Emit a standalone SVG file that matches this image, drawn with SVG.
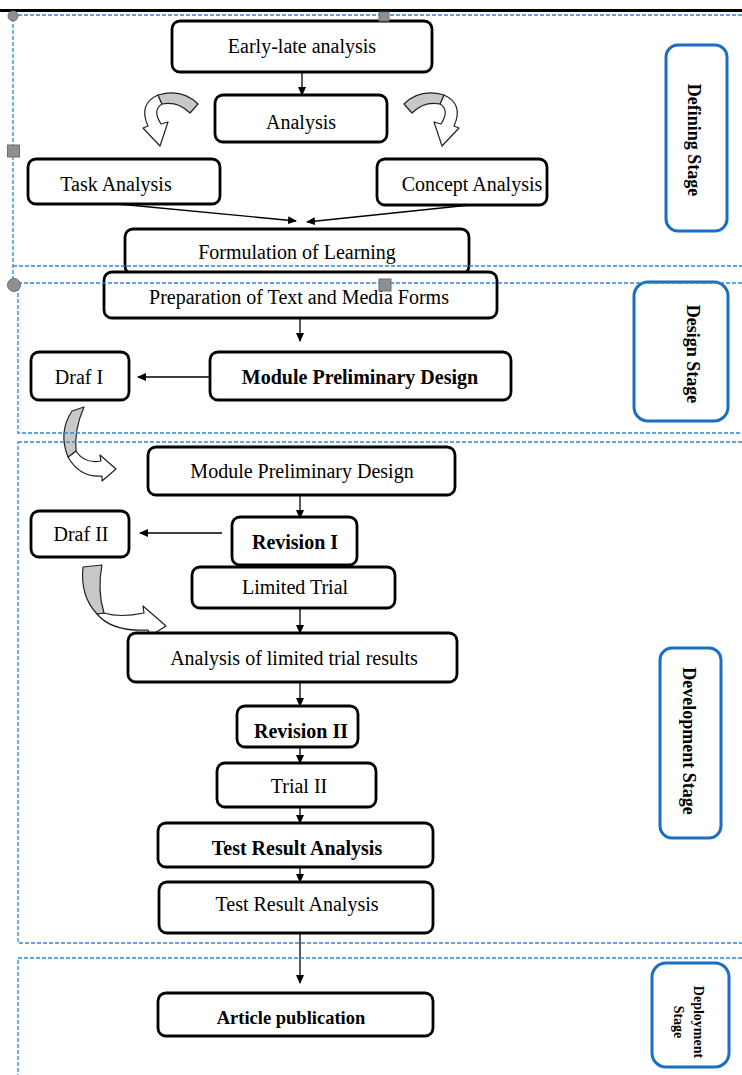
<svg xmlns="http://www.w3.org/2000/svg" width="742" height="1075" viewBox="0 0 742 1075">
<defs>
<style>
.box{fill:#fff;stroke:#000;stroke-width:2.8}
.stage{fill:#fff;stroke:#1b6fc2;stroke-width:3}
.t{font-family:"Liberation Serif","Times New Roman",serif;font-size:20px;fill:#000;text-anchor:middle;dominant-baseline:central}
.b{font-weight:bold}
.st{font-family:"Liberation Serif","Times New Roman",serif;font-size:18px;font-weight:bold;fill:#000;text-anchor:middle;dominant-baseline:central}
.con{stroke:#000;stroke-width:1.3;fill:none;marker-end:url(#ah)}
.region{fill:none;stroke:#2f86d6;stroke-width:1.3;stroke-dasharray:4 2}
.gray{fill:#c8c8c8;stroke:#222;stroke-width:1.2;stroke-linejoin:round}
.white{fill:#fff;stroke:#222;stroke-width:1.2;stroke-linejoin:round}
.handle{fill:#8f8f8f;stroke:#6f6f6f;stroke-width:1}
</style>
<marker id="ah" markerWidth="9" markerHeight="8" refX="8" refY="4" orient="auto" markerUnits="userSpaceOnUse">
<path d="M0,0 L9,4 L0,8 Z" fill="#000"/>
</marker>
</defs>

<line x1="0" y1="10.5" x2="742" y2="10.5" stroke="#000" stroke-width="3"/>

<g id="curved-arrows">
<g id="ca1">
<path class="white" d="M158 95 Q138 104 148 126 L143 128 L160 146 L168 122 L161 124 Q152 110 162 104 Z"/>
<path class="gray" d="M158 95 Q182 88 198 104 L190 113 Q178 101 162 104 Z"/>
</g>
<g id="ca2" transform="translate(602,0) scale(-1,1)">
<path class="white" d="M158 95 Q138 104 148 126 L143 128 L160 146 L168 122 L161 124 Q152 110 162 104 Z"/>
<path class="gray" d="M158 95 Q182 88 198 104 L190 113 Q178 101 162 104 Z"/>
</g>
<g id="ca3">
<path class="white" d="M68 457 Q80 478 102 476 L102 481 L116 469 L100 455 L101 461 Q84 464 76 451 Z"/>
<path class="gray" d="M72 411 L84 407 Q74 430 76 451 L68 457 Q58 432 72 411 Z"/>
</g>
<g id="ca4">
<path class="white" d="M97 614 Q112 632 148 630 L150 636 L166 626 L143 606 L144 613 Q120 618 104 613 Z"/>
<path class="gray" d="M83 567 L102 565 Q97 590 104 613 L97 614 Q80 596 83 567 Z"/>
</g>
</g>

<g id="connectors">
<line class="con" x1="302" y1="72" x2="302" y2="95"/>
<line class="con" x1="118" y1="204" x2="296" y2="221"/>
<line class="con" x1="470" y1="205" x2="307" y2="222"/>
<line class="con" x1="300" y1="318" x2="300" y2="341"/>
<line class="con" x1="210" y1="377" x2="138" y2="377"/>
<line class="con" x1="300" y1="495" x2="300" y2="518"/>
<line class="con" x1="222" y1="533" x2="140" y2="533"/>
<line class="con" x1="300" y1="608" x2="300" y2="633"/>
<line class="con" x1="300" y1="682" x2="300" y2="706"/>
<line class="con" x1="300" y1="747" x2="300" y2="763"/>
<line class="con" x1="300" y1="807" x2="300" y2="823"/>
<line class="con" x1="300" y1="867" x2="300" y2="882"/>
<line class="con" x1="300" y1="933" x2="300" y2="983"/>
</g>

<g id="n-early"><rect class="box" x="172" y="21" width="260" height="51" rx="8"/><text class="t" x="302" y="46">Early-late analysis</text></g>
<g id="n-analysis"><rect class="box" x="215" y="95" width="172" height="47" rx="8"/><text class="t" x="301" y="122">Analysis</text></g>
<g id="n-task"><rect class="box" x="28" y="159" width="192" height="45" rx="8"/><text class="t" x="116" y="184">Task Analysis</text></g>
<g id="n-concept"><rect class="box" x="377" y="159" width="170" height="46" rx="8"/><text class="t" x="472" y="184">Concept Analysis</text></g>
<g id="n-formulation"><rect class="box" x="125" y="229" width="344" height="45" rx="8"/><text class="t" x="297" y="252">Formulation of Learning</text></g>
<g id="n-preparation"><rect class="box" x="104" y="272" width="393" height="46" rx="8"/><text class="t" x="299" y="297">Preparation of Text and Media Forms</text></g>
<g id="n-mpd1"><rect class="box" x="210" y="352" width="301" height="48" rx="8"/><text class="t b" x="360" y="377">Module Preliminary Design</text></g>
<g id="n-draf1"><rect class="box" x="31" y="352" width="98" height="48" rx="8"/><text class="t" x="79" y="377">Draf I</text></g>
<g id="n-mpd2"><rect class="box" x="148" y="447" width="307" height="48" rx="8"/><text class="t" x="302" y="471">Module Preliminary Design</text></g>
<g id="n-rev1"><rect class="box" x="232" y="517" width="125" height="48" rx="8"/><text class="t b" x="295" y="542">Revision I</text></g>
<g id="n-draf2"><rect class="box" x="31" y="511" width="98" height="46" rx="8"/><text class="t" x="81" y="534">Draf II</text></g>
<g id="n-limited"><rect class="box" x="192" y="567" width="203" height="41" rx="8"/><text class="t" x="295" y="587">Limited Trial</text></g>
<g id="n-altr"><rect class="box" x="128" y="633" width="329" height="49" rx="8"/><text class="t" x="294" y="658">Analysis of limited trial results</text></g>
<g id="n-rev2"><rect class="box" x="237" y="706" width="121" height="41" rx="8"/><text class="t b" x="301" y="731">Revision II</text></g>
<g id="n-trial2"><rect class="box" x="217" y="763" width="159" height="44" rx="8"/><text class="t" x="299" y="786">Trial II</text></g>
<g id="n-tra1"><rect class="box" x="158" y="823" width="275" height="44" rx="8"/><text class="t b" x="297" y="848">Test Result Analysis</text></g>
<g id="n-tra2"><rect class="box" x="159" y="882" width="274" height="51" rx="8"/><text class="t" x="297" y="904">Test Result Analysis</text></g>
<g id="n-article"><rect class="box" x="158" y="993" width="275" height="43" rx="8"/><text class="t b" x="291" y="1018" style="font-size:18.5px">Article publication</text></g>

<g id="stage-defining"><rect class="stage" x="666" y="45" width="61" height="186" rx="12"/><text class="st" transform="translate(694,140) rotate(90)">Defining Stage</text></g>
<g id="stage-design"><rect class="stage" x="634" y="282" width="94" height="139" rx="14"/><text class="st" transform="translate(693,354) rotate(90)">Design Stage</text></g>
<g id="stage-development"><rect class="stage" x="660" y="648" width="61" height="190" rx="12"/><text class="st" transform="translate(689,741) rotate(90)">Development Stage</text></g>
<g id="stage-deployment"><rect class="stage" x="652" y="963" width="77" height="104" rx="14"/><text class="st" style="font-size:14px" transform="translate(698,1022) rotate(90)">Deployment</text><text class="st" style="font-size:14px" transform="translate(678,1022) rotate(90)">Stage</text></g>

<g id="regions">
<path class="region" d="M760 15 H13 V285"/>
<line class="region" x1="13" y1="266" x2="760" y2="266"/>
<rect class="region" x="18" y="283" width="742" height="150"/>
<rect class="region" x="18" y="442" width="742" height="501"/>
<path class="region" d="M760 958 H18 V1080"/>
</g>

<g id="handles">
<circle class="handle" cx="13" cy="16" r="5"/>
<rect class="handle" x="379" y="12" width="10" height="9"/>
<rect class="handle" x="7.5" y="145" width="12" height="12"/>
<circle class="handle" cx="14" cy="285" r="6.5"/>
<rect class="handle" x="379" y="279" width="12" height="12"/>
</g>
</svg>
